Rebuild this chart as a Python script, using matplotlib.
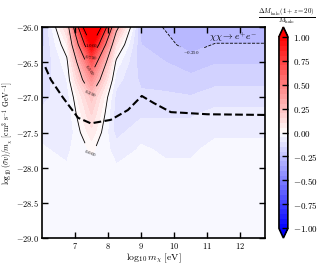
import numpy as np
import matplotlib
matplotlib.use("Agg")
import matplotlib.pyplot as plt
from matplotlib.ticker import FormatStrFormatter

plt.rcParams['mathtext.fontset'] = 'cm'
plt.rcParams['font.family'] = 'serif'
plt.rcParams['font.serif'] = ['DejaVu Serif']

# grid: log10 mass [eV] and log10 (sigma v)/m
log_m = [6.0, 6.75, 7.5, 8.25, 9.0, 9.75, 10.5, 11.25, 12.0, 12.75]
log_sv = [-26.0, -26.25, -26.5, -26.75, -27.0, -27.25, -27.5, -27.75,
          -28.0, -28.25, -28.5, -28.75, -29.0]

# Delta M_halo / M_halo at 1+z=20, one row per log_sv value
dM = [
    [-0.18, 0.15, 1.45, 0.30, -0.22, -0.255, -0.30, -0.29, -0.29, -0.29],
    [-0.17, 0.05, 1.02, 0.10, -0.20, -0.235, -0.27, -0.2465, -0.2465, -0.2465],
    [-0.15, -0.02, 0.65, -0.02, -0.18, -0.20, -0.228, -0.204, -0.204, -0.204],
    [-0.13, -0.05, 0.42, -0.08, -0.16, -0.17, -0.185, -0.168, -0.168, -0.168],
    [-0.11, -0.08, 0.22, -0.12, -0.14, -0.14, -0.146, -0.123, -0.123, -0.123],
    [-0.09, -0.095, 0.15, -0.13, -0.11, -0.105, -0.105, -0.082, -0.082, -0.082],
    [-0.06, -0.097, 0.08, -0.12, -0.06, -0.08, -0.08, -0.055, -0.055, -0.055],
    [-0.045, -0.06, 0.01, -0.07, -0.045, -0.055, -0.055, -0.04, -0.04, -0.04],
    [-0.04, -0.045, -0.03, -0.045, -0.04, -0.045, -0.045, -0.035, -0.035, -0.035],
    [-0.035, -0.035, -0.03, -0.035, -0.035, -0.035, -0.035, -0.03, -0.03, -0.03],
    [-0.03, -0.03, -0.03, -0.03, -0.03, -0.03, -0.03, -0.03, -0.03, -0.03],
    [-0.03, -0.03, -0.03, -0.03, -0.03, -0.03, -0.03, -0.03, -0.03, -0.03],
    [-0.025, -0.025, -0.025, -0.025, -0.025, -0.025, -0.025, -0.025, -0.025, -0.025],
]

# dashed constraint curve
bound_m = [6.1, 6.27, 6.63, 7.09, 7.48, 8.08, 8.6, 9.02, 9.38, 9.9, 10.29, 11.0, 12.75]
bound_sv = [-26.57, -26.75, -27.0, -27.29, -27.37, -27.32, -27.18, -26.98,
            -27.08, -27.21, -27.22, -27.24, -27.25]

X, Y = np.meshgrid(log_m, log_sv)
Z = np.array(dM)

fig = plt.figure(figsize=(3.17, 2.68), dpi=100)
ax = fig.add_axes([0.1325, 0.112, 0.7035, 0.787])
cax = fig.add_axes([0.880, 0.112, 0.028, 0.787])

levels = np.linspace(-1, 1, 41)
cf = ax.contourf(X, Y, Z, levels=levels, cmap='bwr', extend='both')
cs = ax.contour(X, Y, Z, levels=[-0.25, 0.0, 0.25, 0.5, 0.75, 1.0],
                colors='k', linewidths=0.6)
ax.clabel(cs, fmt=lambda v: '$%.3f$' % v, fontsize=3.5, inline=True,
          manual=[(10.55, -26.38), (7.45, -27.8), (7.48, -26.94),
                  (7.48, -26.6), (7.48, -26.43), (7.48, -26.27)])

ax.plot(bound_m, bound_sv, 'k--', lw=1.5)
ax.text(11.05, -26.19, r'$\chi\chi \to e^{+}e^{-}$', fontsize=7)

ax.set_xlim(6.0, 12.75)
ax.set_ylim(-29.0, -26.0)
ax.set_xticks([7, 8, 9, 10, 11, 12])
ax.set_yticks([-29.0, -28.5, -28.0, -27.5, -27.0, -26.5, -26.0])
ax.xaxis.set_major_formatter(FormatStrFormatter('$%d$'))
ax.yaxis.set_major_formatter(FormatStrFormatter('$%.1f$'))
ax.tick_params(direction='in', top=True, right=True, labelsize=6, length=4, width=1, pad=2.5)
for s in ax.spines.values():
    s.set_linewidth(1.2)
ax.set_xlabel(r'$\log_{10} m_\chi\ [\mathrm{eV}]$', fontsize=7, labelpad=0)
ax.set_ylabel(r'$\log_{10}(\sigma v)/m_\chi\ [\mathrm{cm}^3\ \mathrm{s}^{-1}\ \mathrm{GeV}^{-1}]$',
              fontsize=5.5)
ax.yaxis.set_label_coords(-0.118, 0.5)

cb = fig.colorbar(cf, cax=cax, ticks=[-1, -0.75, -0.5, -0.25, 0, 0.25, 0.5, 0.75, 1])
cb.ax.yaxis.set_major_formatter(FormatStrFormatter('$%.2f$'))
cb.ax.tick_params(direction='in', labelsize=6.5, length=4, width=1)
cb.outline.set_linewidth(1.2)
fig.text(0.905, 0.94, r'$\frac{\Delta M_{\rm halo}(1+z=20)}{M_{\rm halo}}$',
         fontsize=7, ha='center', va='center')

fig.savefig('out.png', dpi=100)
